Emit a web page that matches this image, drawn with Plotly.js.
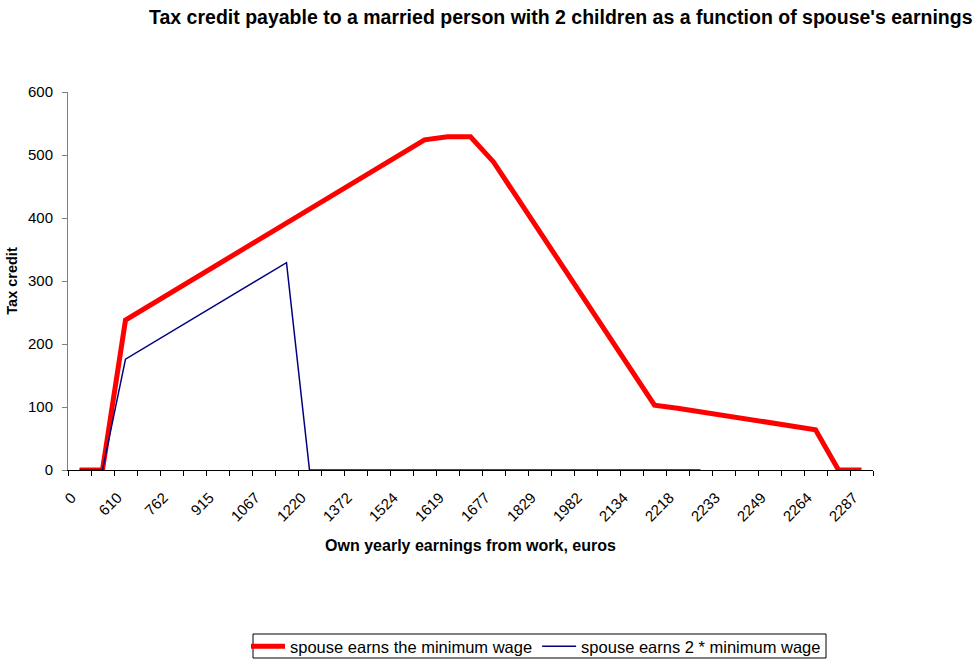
<!DOCTYPE html>
<html><head><meta charset="utf-8">
<script src="https://cdn.plot.ly/plotly-3.0.1.min.js"></script>
<style>html,body{margin:0;padding:0;background:#fff}#chart{width:977px;height:660px}</style>
</head><body><div id="chart"></div>
<script>
// 35 categories (only every other one is labelled in the reference)
const categories = ["0","305","610","686","762","838","915","991","1067","1143","1220","1296","1372","1448","1524","1571","1619","1648","1677","1753","1829","1905","1982","2058","2134","2176","2218","2225","2233","2241","2249","2256","2264","2275","2287"];
const shownLabels = ["0","610","762","915","1067","1220","1372","1524","1619","1677","1829","1982","2134","2218","2233","2249","2264","2287"];
const spouseMin = [0,0,238,260,282,304,326,348,370,392,414,436,458,480,502,524,529,529,489,434,379,324,269,213,158,103,98,92,86,81,75,69,64,0,0];
const spouse2Min = [0,0,176,198,220,242,263,285,307,329,0,0,0,0,0,0,0,0,0,0,0,0,0,0,0,0,0,0];
const seriesNames = ["spouse earns the minimum wage","spouse earns 2 * minimum wage"];

const idx = categories.map((c,i)=>i+1);
const font = "Liberation Sans, Arial, sans-serif";

const traces = [
  {x: idx.slice(0, spouseMin.length), y: spouseMin, type:"scatter", mode:"lines", name: seriesNames[0],
   line:{color:"#FF0000", width:5, shape:"linear"}},
  {x: idx.slice(0, spouse2Min.length), y: spouse2Min, type:"scatter", mode:"lines", name: seriesNames[1],
   line:{color:"#000080", width:1.5}}
];

const tickPos = shownLabels.map(l => categories.indexOf(l) + 1);
const boundaries = [];
for (let i = 0; i <= categories.length; i++) boundaries.push(i + 0.5);

const layout = {
  width: 977, height: 660,
  margin: {l:68, r:104, t:92, b:190, autoexpand:false},
  paper_bgcolor:"#fff", plot_bgcolor:"#fff",
  font: {family: font, size: 15, color:"#000"},
  title: {text:"Tax credit payable to a married person with 2 children as a function of spouse's earnings",
          font:{family:font, size:19.5, color:"#000", weight:"bold"},
          x:0.574, xanchor:"center", xref:"container", y:0.974, yref:"container", yanchor:"middle"},
  showlegend: true,
  legend: {orientation:"h", x:0.2211, xanchor:"left", y:-0.4206, yanchor:"top",
           borderwidth:0, bgcolor:"rgba(0,0,0,0)",
           font:{family:font, size:16.5, color:"#000"}, itemwidth:34, tracegroupgap:0},
  shapes: [
    {type:"rect", xref:"paper", yref:"paper", x0:(253-68)/805, x1:(826-68)/805, y0:(470-634)/378, y1:(470-658)/378,
     line:{color:"#000", width:1}, fillcolor:"rgba(0,0,0,0)", layer:"below"}
  ],
  xaxis: {
    range:[0.5, categories.length + 0.5], fixedrange:true, automargin:false,
    tickmode:"array", tickvals: tickPos, ticktext: shownLabels, ticks:"", tickangle:-45,
    ticklabelstandoff:12, ticklabelshift:-8,
    tickfont:{family:font, size:15, color:"#000"},
    showgrid:false, zeroline:false, showline:true, linecolor:"#000", linewidth:1,
    minor:{tickmode:"array", tickvals: boundaries, ticks:"outside", ticklen:5, tickcolor:"#000", tickwidth:1, showgrid:false},
    title:{text:"Own yearly earnings from work, euros", font:{family:font, size:16, color:"#000", weight:"bold"}, standoff:16}
  },
  yaxis: {
    range:[0, 600], tickmode:"array", tickvals:[0,100,200,300,400,500,600], automargin:false,
    ticks:"outside", ticklen:5, tickcolor:"#808080", tickfont:{family:font, size:15, color:"#000"},
    ticklabelstandoff:6,
    showgrid:false, zeroline:false, showline:true, linecolor:"#808080", linewidth:1,
    title:{text:"Tax credit", font:{family:font, size:14.5, color:"#000", weight:"bold"}, standoff:6}
  }
};
Plotly.newPlot("chart", traces, layout, {displayModeBar:false, staticPlot:true});
</script></body></html>
